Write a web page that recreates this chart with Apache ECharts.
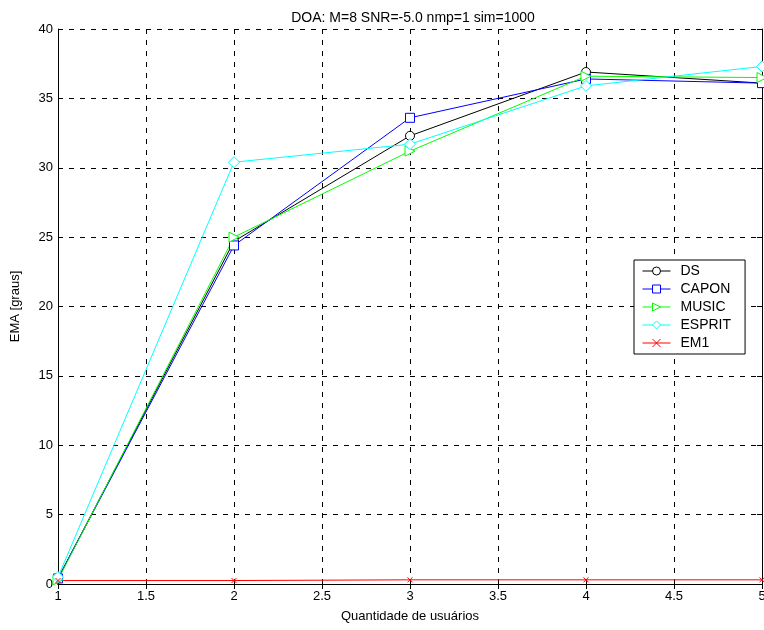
<!DOCTYPE html>
<html><head><meta charset="utf-8">
<script src="https://cdn.jsdelivr.net/npm/echarts@6/dist/echarts.min.js"></script>
<style>html,body{margin:0;padding:0;background:#fff}#c{width:764px;height:630px}</style>
</head><body><div id="c"></div>
<script>
const xs = [1, 2, 3, 4, 5];
const ds = [0.4, 24.7, 32.3, 36.9, 36.1];
const capon = [0.4, 24.4, 33.6, 36.4, 36.1];
const music = [0.3, 25.0, 31.2, 36.6, 36.5];
const esprit = [0.5, 30.4, 31.7, 35.9, 37.3];
const em1 = [0.25, 0.25, 0.3, 0.3, 0.3];
const names = ['DS', 'CAPON', 'MUSIC', 'ESPRIT', 'EM1'];
const titleText = 'DOA: M=8 SNR=-5.0 nmp=1 sim=1000';
const xName = 'Quantidade de usuários';
const yName = 'EMA [graus]';

const font = 'Liberation Sans, Arial, sans-serif';
function pts(v){ return xs.map((x,i)=>[x, v[i]]); }
const xMark = 'path://M0,0L10,10M10,0L0,10';
function ser(name, data, color, symbol, size, rot){
  return {
    name, type:'line', data: pts(data), symbol, symbolSize:size, symbolRotate: rot||0,
    showAllSymbol:true,
    lineStyle:{color, width:1}, itemStyle:{color:'#fff', borderColor:color, borderWidth:1},
    emphasis:{disabled:true}, z: 3
  };
}
const chart = echarts.init(document.getElementById('c'), null, {renderer:'canvas'});
const series = [
  ser('DS', ds, '#000000', 'circle', 9),
  ser('CAPON', capon, '#0000ff', 'rect', 9),
  ser('MUSIC', music, '#00ff00', 'triangle', 10, -90),
  ser('ESPRIT', esprit, '#00ffff', 'diamond', 11),
  {
    name:'EM1', type:'line', data: pts(em1), symbol: xMark, symbolSize:5,
    lineStyle:{color:'#ff0000', width:1}, itemStyle:{color:'none', borderColor:'#ff0000', borderWidth:1},
    emphasis:{disabled:true}, z:3
  }
];
const axLine = {show:true, lineStyle:{color:'#000', width:1}};
chart.setOption({
  animation:false,
  backgroundColor:'#fff',
  title:{text:titleText, left:408, top:6, textAlign:'center',
    textStyle:{fontFamily:font, fontSize:14, fontWeight:'normal', color:'#000'}},
  grid:{left:58, right:2, top:29, bottom:46, show:false, outerBoundsMode:'none', containLabel:false},
  legend:{
    orient:'vertical', left:634, top:260, data:names,
    backgroundColor:'#fff', borderColor:'#000', borderWidth:1,
    padding:[4, 14, 4, 8], itemGap:4, itemWidth:28, itemHeight:10,
    lineStyle:{width:1}, itemStyle:{borderWidth:1},
    textStyle:{fontFamily:font, fontSize:14, color:'#000', padding:[0,0,0,5]},
    selectedMode:false
  },
  xAxis:[{
    type:'value', min:1, max:5, interval:0.5, position:'bottom',
    name:xName, nameLocation:'middle', nameGap:26,
    nameTextStyle:{fontFamily:font, fontSize:13, color:'#000'},
    axisLine:axLine, axisTick:{show:true, inside:true, length:5, lineStyle:{color:'#000'}},
    axisLabel:{fontFamily:font, fontSize:13, color:'#000', margin:6, showMaxLabel:true},
    splitLine:{show:true, lineStyle:{color:'#000', type:[5,6], width:1}}
  },{
    type:'value', min:1, max:5, interval:0.5, position:'top',
    axisLine:axLine, axisTick:{show:true, inside:true, length:5, lineStyle:{color:'#000'}},
    axisLabel:{show:false}, splitLine:{show:false}
  }],
  yAxis:[{
    type:'value', min:0, max:40, interval:5, position:'left',
    name:yName, nameLocation:'middle', nameGap:36,
    nameTextStyle:{fontFamily:font, fontSize:13, color:'#000'},
    axisLine:axLine, axisTick:{show:true, inside:true, length:5, lineStyle:{color:'#000'}},
    axisLabel:{fontFamily:font, fontSize:13, color:'#000', margin:5},
    splitLine:{show:true, lineStyle:{color:'#000', type:[5,6], width:1}}
  },{
    type:'value', min:0, max:40, interval:5, position:'right',
    axisLine:axLine, axisTick:{show:true, inside:true, length:5, lineStyle:{color:'#000'}},
    axisLabel:{show:false}, splitLine:{show:false}
  }],
  series
});
</script></body></html>
